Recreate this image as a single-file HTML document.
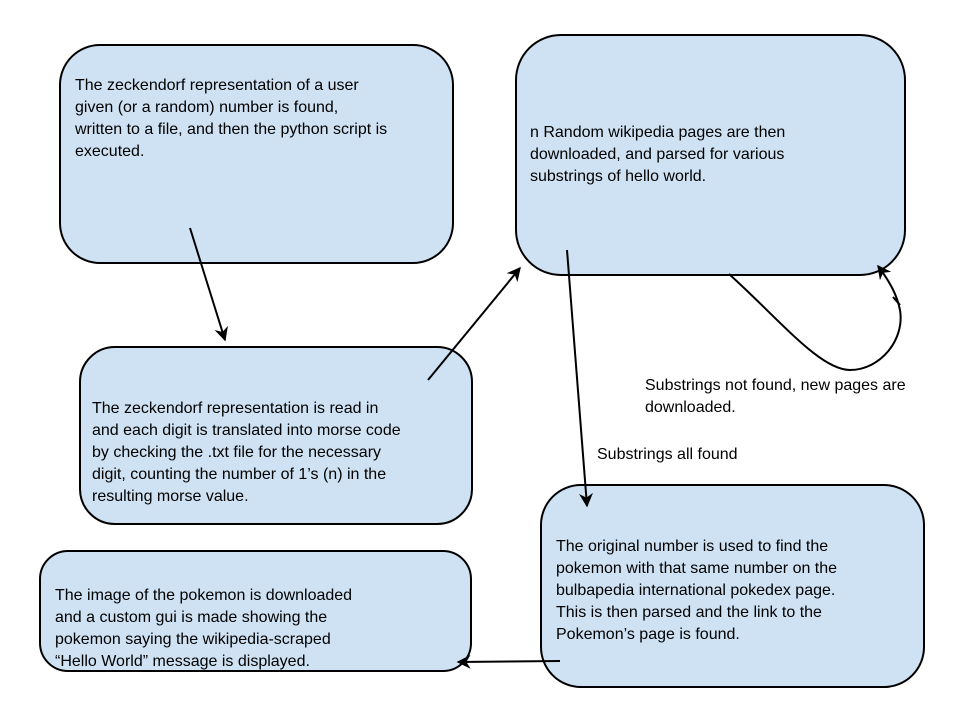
<!DOCTYPE html>
<html><head><style>body{margin:0;background:#fff}svg{display:block}text{font-family:"Liberation Sans",Arial,sans-serif;font-size:16px;fill:#000}</style></head>
<body>
<svg width="960" height="720" viewBox="0 0 960 720" xmlns="http://www.w3.org/2000/svg">
<defs><marker id="a" viewBox="0 0 10 10" refX="9" refY="5" markerWidth="7" markerHeight="7" orient="auto"><path d="M0,0 L10,5 L0,10 L3,5 z" fill="#000"/></marker></defs>
<g fill="#cfe2f3" stroke="#000" stroke-width="2">
<rect x="60" y="45" width="393" height="218" rx="40"/>
<rect x="516" y="35" width="389" height="240" rx="45"/>
<rect x="80" y="347" width="392" height="177" rx="35"/>
<rect x="541" y="485" width="383" height="202" rx="40"/>
<rect x="40" y="551" width="431" height="120" rx="28"/>
</g>
<g stroke="#000" stroke-width="2" fill="none">
<line x1="190" y1="228" x2="225" y2="340" marker-end="url(#a)"/>
<line x1="428" y1="380" x2="520" y2="268" marker-end="url(#a)"/>
<line x1="567" y1="250" x2="587" y2="506" marker-end="url(#a)"/>
<line x1="560" y1="661" x2="458" y2="662" marker-end="url(#a)"/>
<path d="M729,274 C780,320 820,370 850,370 C880,370 905,340 900,310 C897,295 890,282 878,266" marker-end="url(#a)"/>
<line x1="893" y1="297" x2="900" y2="305"/>
</g>
<text x="75" y="90">The zeckendorf representation of a user</text>
<text x="75" y="112">given (or a random) number is found,</text>
<text x="75" y="134">written to a file, and then the python script is</text>
<text x="75" y="156">executed.</text>
<text x="530" y="137">n Random wikipedia pages are then</text>
<text x="530" y="159">downloaded, and parsed for various</text>
<text x="530" y="181">substrings of hello world.</text>
<text x="645" y="390">Substrings not found, new pages are</text>
<text x="645" y="412">downloaded.</text>
<text x="597" y="459">Substrings all found</text>
<text x="92" y="413">The zeckendorf representation is read in</text>
<text x="92" y="435">and each digit is translated into morse code</text>
<text x="92" y="457">by checking the .txt file for the necessary</text>
<text x="92" y="479">digit, counting the number of 1’s (n) in the</text>
<text x="92" y="501">resulting morse value.</text>
<text x="556" y="551">The original number is used to find the</text>
<text x="556" y="573">pokemon with that same number on the</text>
<text x="556" y="595">bulbapedia international pokedex page.</text>
<text x="556" y="617">This is then parsed and the link to the</text>
<text x="556" y="639">Pokemon’s page is found.</text>
<text x="55" y="600">The image of the pokemon is downloaded</text>
<text x="55" y="622">and a custom gui is made showing the</text>
<text x="55" y="644">pokemon saying the wikipedia-scraped</text>
<text x="55" y="666">“Hello World” message is displayed.</text>
</svg>
</body></html>
